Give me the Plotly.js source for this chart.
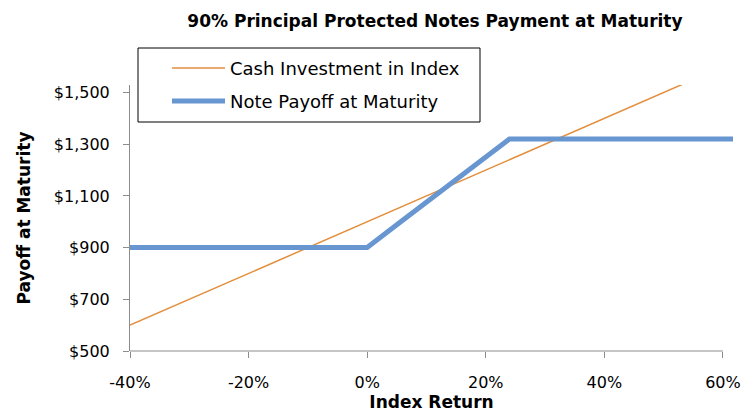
<!DOCTYPE html>
<html>
<head>
<meta charset="utf-8">
<script src="https://cdn.plot.ly/plotly-3.0.1.min.js"></script>
<style>html,body{margin:0;padding:0;background:#fff;}#chart{width:741px;height:416px;}</style>
</head>
<body>
<div id="chart"></div>
<script>
// Index return (%) and payoffs ($)
const cashReturn = [-40, -35, -30, -25, -20, -15, -10, -5, 0, 5, 10, 15, 20, 25, 30, 35, 40, 45, 50, 53.3];
const cashPayoff = [600, 650, 700, 750, 800, 850, 900, 950, 1000, 1050, 1100, 1150, 1200, 1250, 1300, 1350, 1400, 1450, 1500, 1533];
const noteReturn = [-40, -20, 0, 5, 10, 15, 20, 24, 40, 61.7];
const notePayoff = [900, 900, 900, 988, 1075, 1163, 1250, 1320, 1320, 1320];
const xTicks = [-40, -20, 0, 20, 40, 60];
const yTicks = [500, 700, 900, 1100, 1300, 1500];
const seriesNames = ['Cash Investment in Index', 'Note Payoff at Maturity'];

const FONT = 'DejaVu Sans, sans-serif';
const orange = '#E38E3C';
const blue = '#6796D0';
const axisGray = '#8C8C8C';

const traces = [
  {x: cashReturn, y: cashPayoff, mode: 'lines', name: seriesNames[0],
   line: {color: orange, width: 1.5}, showlegend: false, hoverinfo: 'x+y'},
  {x: noteReturn, y: notePayoff, mode: 'lines', name: seriesNames[1],
   line: {color: blue, width: 5}, showlegend: false, hoverinfo: 'x+y'}
];

// plot area geometry helpers (paper coords)
const L = 130, R = 8, T = 85, B = 65, W = 741, H = 416;
const pw = W - L - R, ph = H - T - B;
const px = v => (v - L) / pw;
const py = v => (H - B - v) / ph;

const layout = {
  width: W, height: H,
  margin: {l: L, r: R, t: T, b: B},
  paper_bgcolor: '#fff', plot_bgcolor: '#fff',
  font: {family: FONT, color: '#000', size: 16},
  title: {text: '<b>90% Principal Protected Notes Payment at Maturity</b>',
          font: {family: FONT, size: 17, color: '#000'},
          x: 0.587, xref: 'container', xanchor: 'center', y: 0.95, yref: 'container', yanchor: 'middle'},
  xaxis: {range: [-40, 61.7], tickvals: xTicks, ticktext: xTicks.map(v => v + '%'),
          showgrid: false, zeroline: false, showline: false,
          ticks: 'outside', ticklen: 6, tickcolor: axisGray, tickwidth: 1, ticklabelstandoff: 11,
          tickfont: {family: FONT, size: 16}, fixedrange: true,
          title: {text: '<b>Index Return</b>', font: {family: FONT, size: 17}, standoff: 2}},
  yaxis: {range: [500, 1529], tickvals: yTicks, ticktext: yTicks.map(v => '$' + v.toLocaleString('en-US')),
          showgrid: false, zeroline: false, showline: true, linecolor: axisGray, linewidth: 1,
          ticks: 'outside', ticklen: 6, tickcolor: axisGray, tickwidth: 1, ticklabelstandoff: 10,
          tickfont: {family: FONT, size: 16}, fixedrange: true,
          title: {text: '<b>Payoff at Maturity</b>', font: {family: FONT, size: 17}, standoff: 18}},
  shapes: [
    // x axis line spanning -40% to 60%
    {type: 'line', xref: 'x', yref: 'paper', x0: xTicks[0], x1: xTicks[xTicks.length - 1], y0: 0, y1: 0,
     line: {color: axisGray, width: 1}},
    // legend box
    {type: 'rect', xref: 'paper', yref: 'paper', x0: px(138), x1: px(480), y0: py(122), y1: py(48),
     line: {color: '#000', width: 1}, fillcolor: '#fff', layer: 'above'},
    {type: 'line', xref: 'paper', yref: 'paper', x0: px(172), x1: px(225), y0: py(68), y1: py(68),
     line: {color: orange, width: 1.5}},
    {type: 'line', xref: 'paper', yref: 'paper', x0: px(172), x1: px(225), y0: py(101), y1: py(101),
     line: {color: blue, width: 5}}
  ],
  annotations: [
    {xref: 'paper', yref: 'paper', x: px(228), y: py(68), xanchor: 'left', yanchor: 'middle',
     text: seriesNames[0], showarrow: false, font: {family: FONT, size: 18, color: '#000'}},
    {xref: 'paper', yref: 'paper', x: px(228), y: py(101), xanchor: 'left', yanchor: 'middle',
     text: seriesNames[1], showarrow: false, font: {family: FONT, size: 18, color: '#000'}}
  ],
  showlegend: false
};

Plotly.newPlot('chart', traces, layout, {displayModeBar: false, staticPlot: true});
</script>
</body>
</html>
